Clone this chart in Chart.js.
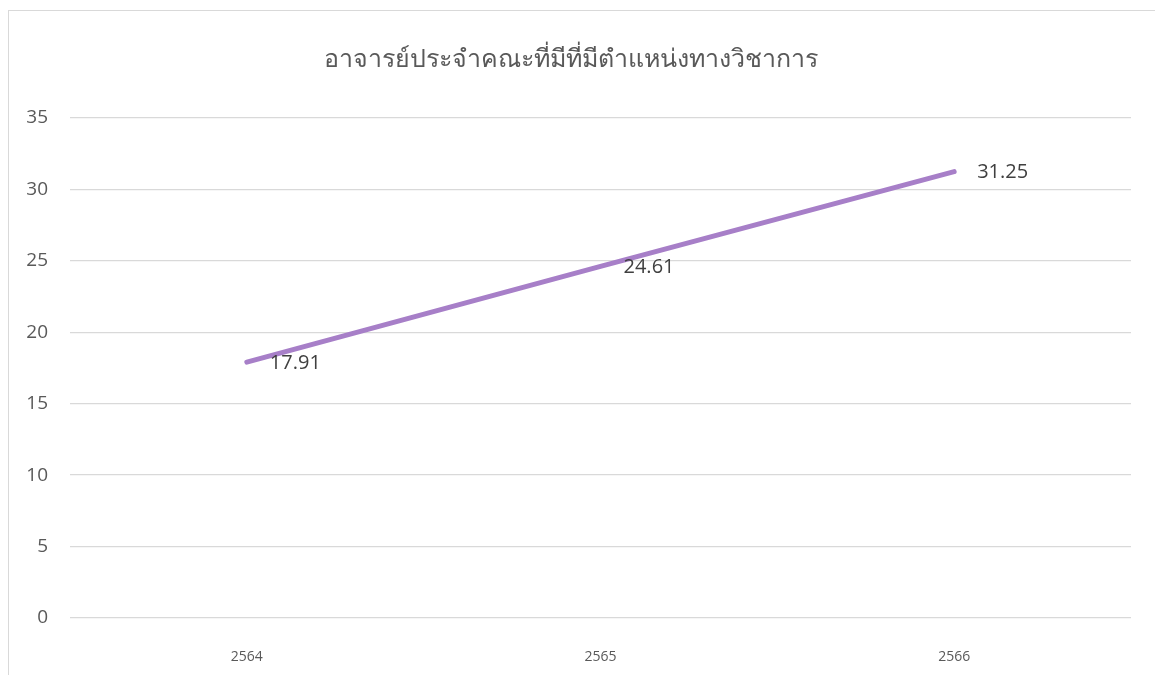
<!DOCTYPE html>
<html><head><meta charset="utf-8">
<script src="https://cdn.jsdelivr.net/npm/chart.js@4"></script>
<style>html,body{margin:0;padding:0;background:#fff}#wrap{width:1155px;height:675px}</style>
</head><body><div id="wrap"><canvas id="c" width="1155" height="675"></canvas></div>
<script>
const categories = ["2564", "2565", "2566"];
const values = [17.91, 24.61, 31.25];
const yTicks = [0, 5, 10, 15, 20, 25, 30, 35];
const titleText = "อาจารย์ประจำคณะที่มีที่มีตำแหน่งทางวิชาการ";

const frame = {
  id: 'frame',
  beforeDraw(chart) {
    const ctx = chart.ctx;
    ctx.save();
    ctx.fillStyle = '#fff';
    ctx.fillRect(0, 0, chart.width, chart.height);
    ctx.strokeStyle = '#d9d9d9';
    ctx.lineWidth = 1;
    ctx.strokeRect(8.5, 10.5, 1200, 700);
    ctx.restore();
  }
};
const labels = {
  id: 'labels',
  afterDatasetsDraw(chart) {
    const ctx = chart.ctx;
    const meta = chart.getDatasetMeta(0);
    ctx.save();
    ctx.font = '20px "Open Sans", "Noto Sans", sans-serif';
    ctx.fillStyle = '#404040';
    ctx.textAlign = 'left';
    ctx.textBaseline = 'middle';
    meta.data.forEach((p, i) => {
      ctx.fillText(values[i].toFixed(2), p.x + 23, p.y + 1);
    });
    ctx.restore();
  }
};
new Chart(document.getElementById('c'), {
  type: 'line',
  data: { labels: categories, datasets: [{
    data: values, borderColor: '#a77fc8', borderWidth: 5, borderCapStyle: 'round',
    pointRadius: 0, tension: 0, fill: false
  }]},
  options: {
    responsive: false, animation: false,
    layout: { padding: { left: 10, right: 24, top: 0, bottom: 0 } },
    plugins: {
      legend: { display: false }, tooltip: { enabled: false },
      title: { display: true, text: titleText, color: '#595959',
        font: { size: 25, family: 'Tahoma, "Noto Sans", sans-serif', weight: 'normal', lineHeight: 1.2 }, padding: { top: 45, bottom: 43 } }
    },
    scales: {
      x: { offset: true, grid: { display: false }, border: { display: false },
        ticks: { color: '#595959', font: { size: 14, family: '"Open Sans", sans-serif' }, padding: 23 },
        afterFit(s) { s.height = 57; } },
      y: { min: 0, max: 35, afterBuildTicks(s) { s.ticks = yTicks.map(v => ({ value: v })); },
        grid: { color: '#d9d9d9', drawTicks: false, lineWidth: 1.3 }, border: { display: false },
        ticks: { color: '#595959', font: { size: 19, family: '"Open Sans", sans-serif' }, padding: 22 },
        afterFit(s) { s.width = 60; } }
    }
  },
  plugins: [frame, labels]
});
</script></body></html>
